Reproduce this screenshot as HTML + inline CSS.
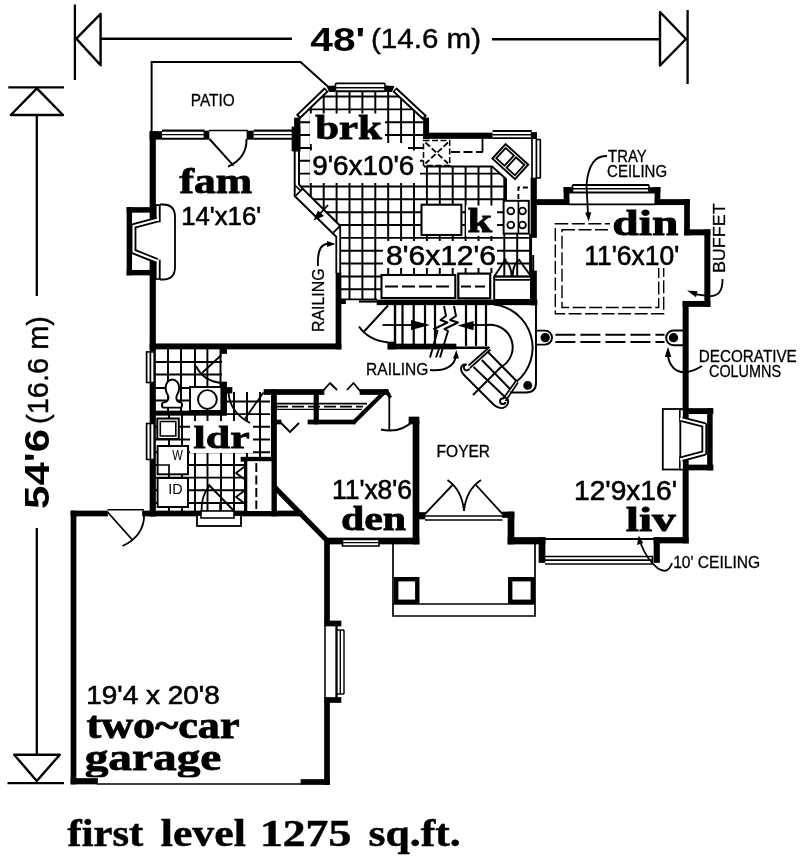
<!DOCTYPE html>
<html><head><meta charset="utf-8"><title>first level floor plan</title>
<style>
html,body{margin:0;padding:0;background:#fff;}
body{width:800px;height:863px;overflow:hidden;font-family:"Liberation Sans",sans-serif;}
svg{display:block;}
</style></head><body>
<svg width="800" height="863" viewBox="0 0 800 863">
<rect x="0" y="0" width="800" height="863" fill="#fff"/>
<filter id="soft" x="0" y="0" width="800" height="863" filterUnits="userSpaceOnUse"><feGaussianBlur stdDeviation="0.42"/></filter>
<g filter="url(#soft)">
<defs>
<clipPath id="ck"><polygon points="298,118 328,91 393,91 424,118 424,166 492,166 506,179 506,200 504,200 504,234 531,234 531,276 494,276 494,273 457,273 457,275 381,275 381,300 341,300 341,229 298,184"/></clipPath>
<clipPath id="cb"><rect x="155" y="349" width="67" height="62"/></clipPath>
<clipPath id="cl"><polygon points="155,414 225,414 225,392 270,392 270,511 155,511"/></clipPath>
</defs>
<g clip-path="url(#ck)">
<polyline points="285,85 285,305" fill="none" stroke="#000" stroke-width="1.9500000000000002" stroke-linecap="butt"/>
<polyline points="297.9,85 297.9,305" fill="none" stroke="#000" stroke-width="1.9500000000000002" stroke-linecap="butt"/>
<polyline points="310.8,85 310.8,305" fill="none" stroke="#000" stroke-width="1.9500000000000002" stroke-linecap="butt"/>
<polyline points="323.7,85 323.7,305" fill="none" stroke="#000" stroke-width="1.9500000000000002" stroke-linecap="butt"/>
<polyline points="336.6,85 336.6,305" fill="none" stroke="#000" stroke-width="1.9500000000000002" stroke-linecap="butt"/>
<polyline points="349.5,85 349.5,305" fill="none" stroke="#000" stroke-width="1.9500000000000002" stroke-linecap="butt"/>
<polyline points="362.4,85 362.4,305" fill="none" stroke="#000" stroke-width="1.9500000000000002" stroke-linecap="butt"/>
<polyline points="375.3,85 375.3,305" fill="none" stroke="#000" stroke-width="1.9500000000000002" stroke-linecap="butt"/>
<polyline points="388.2,85 388.2,305" fill="none" stroke="#000" stroke-width="1.9500000000000002" stroke-linecap="butt"/>
<polyline points="401.1,85 401.1,305" fill="none" stroke="#000" stroke-width="1.9500000000000002" stroke-linecap="butt"/>
<polyline points="414,85 414,305" fill="none" stroke="#000" stroke-width="1.9500000000000002" stroke-linecap="butt"/>
<polyline points="426.9,85 426.9,305" fill="none" stroke="#000" stroke-width="1.9500000000000002" stroke-linecap="butt"/>
<polyline points="439.8,85 439.8,305" fill="none" stroke="#000" stroke-width="1.9500000000000002" stroke-linecap="butt"/>
<polyline points="452.7,85 452.7,305" fill="none" stroke="#000" stroke-width="1.9500000000000002" stroke-linecap="butt"/>
<polyline points="465.6,85 465.6,305" fill="none" stroke="#000" stroke-width="1.9500000000000002" stroke-linecap="butt"/>
<polyline points="478.5,85 478.5,305" fill="none" stroke="#000" stroke-width="1.9500000000000002" stroke-linecap="butt"/>
<polyline points="491.4,85 491.4,305" fill="none" stroke="#000" stroke-width="1.9500000000000002" stroke-linecap="butt"/>
<polyline points="504.3,85 504.3,305" fill="none" stroke="#000" stroke-width="1.9500000000000002" stroke-linecap="butt"/>
<polyline points="517.2,85 517.2,305" fill="none" stroke="#000" stroke-width="1.9500000000000002" stroke-linecap="butt"/>
<polyline points="530.1,85 530.1,305" fill="none" stroke="#000" stroke-width="1.9500000000000002" stroke-linecap="butt"/>
<polyline points="290,96.5 540,96.5" fill="none" stroke="#000" stroke-width="1.9500000000000002" stroke-linecap="butt"/>
<polyline points="290,109.35 540,109.35" fill="none" stroke="#000" stroke-width="1.9500000000000002" stroke-linecap="butt"/>
<polyline points="290,122.2 540,122.2" fill="none" stroke="#000" stroke-width="1.9500000000000002" stroke-linecap="butt"/>
<polyline points="290,135.05 540,135.05" fill="none" stroke="#000" stroke-width="1.9500000000000002" stroke-linecap="butt"/>
<polyline points="290,147.9 540,147.9" fill="none" stroke="#000" stroke-width="1.9500000000000002" stroke-linecap="butt"/>
<polyline points="290,160.75 540,160.75" fill="none" stroke="#000" stroke-width="1.9500000000000002" stroke-linecap="butt"/>
<polyline points="290,173.6 540,173.6" fill="none" stroke="#000" stroke-width="1.9500000000000002" stroke-linecap="butt"/>
<polyline points="290,186.45 540,186.45" fill="none" stroke="#000" stroke-width="1.9500000000000002" stroke-linecap="butt"/>
<polyline points="290,199.3 540,199.3" fill="none" stroke="#000" stroke-width="1.9500000000000002" stroke-linecap="butt"/>
<polyline points="290,212.15 540,212.15" fill="none" stroke="#000" stroke-width="1.9500000000000002" stroke-linecap="butt"/>
<polyline points="290,225 540,225" fill="none" stroke="#000" stroke-width="1.9500000000000002" stroke-linecap="butt"/>
<polyline points="290,237.85 540,237.85" fill="none" stroke="#000" stroke-width="1.9500000000000002" stroke-linecap="butt"/>
<polyline points="290,250.7 540,250.7" fill="none" stroke="#000" stroke-width="1.9500000000000002" stroke-linecap="butt"/>
<polyline points="290,263.55 540,263.55" fill="none" stroke="#000" stroke-width="1.9500000000000002" stroke-linecap="butt"/>
<polyline points="290,276.4 540,276.4" fill="none" stroke="#000" stroke-width="1.9500000000000002" stroke-linecap="butt"/>
<polyline points="290,289.25 540,289.25" fill="none" stroke="#000" stroke-width="1.9500000000000002" stroke-linecap="butt"/>
<polyline points="290,302.1 540,302.1" fill="none" stroke="#000" stroke-width="1.9500000000000002" stroke-linecap="butt"/>
</g>
<rect x="310" y="113.5" width="75" height="30.5" fill="#fff"/>
<rect x="310" y="150.5" width="110" height="32.5" fill="#fff"/>
<rect x="312" y="143" width="96" height="8" fill="#fff"/>
<rect x="466" y="205.5" width="31" height="30.5" fill="#fff"/>
<rect x="383" y="241" width="114" height="27" fill="#fff"/>
<g clip-path="url(#cb)">
<polyline points="168,345 168,415" fill="none" stroke="#000" stroke-width="1.9500000000000002" stroke-linecap="butt"/>
<polyline points="181,345 181,415" fill="none" stroke="#000" stroke-width="1.9500000000000002" stroke-linecap="butt"/>
<polyline points="195,345 195,415" fill="none" stroke="#000" stroke-width="1.9500000000000002" stroke-linecap="butt"/>
<polyline points="207.4,345 207.4,415" fill="none" stroke="#000" stroke-width="1.9500000000000002" stroke-linecap="butt"/>
<polyline points="220.5,345 220.5,415" fill="none" stroke="#000" stroke-width="1.9500000000000002" stroke-linecap="butt"/>
<polyline points="150,362 225,362" fill="none" stroke="#000" stroke-width="1.9500000000000002" stroke-linecap="butt"/>
<polyline points="150,374.5 225,374.5" fill="none" stroke="#000" stroke-width="1.9500000000000002" stroke-linecap="butt"/>
<polyline points="150,388 225,388" fill="none" stroke="#000" stroke-width="1.9500000000000002" stroke-linecap="butt"/>
<polyline points="150,400.5 225,400.5" fill="none" stroke="#000" stroke-width="1.9500000000000002" stroke-linecap="butt"/>
</g>
<g clip-path="url(#cl)">
<polyline points="169,390 169,515" fill="none" stroke="#000" stroke-width="1.9500000000000002" stroke-linecap="butt"/>
<polyline points="182,390 182,515" fill="none" stroke="#000" stroke-width="1.9500000000000002" stroke-linecap="butt"/>
<polyline points="195,390 195,515" fill="none" stroke="#000" stroke-width="1.9500000000000002" stroke-linecap="butt"/>
<polyline points="207.5,390 207.5,515" fill="none" stroke="#000" stroke-width="1.9500000000000002" stroke-linecap="butt"/>
<polyline points="221,390 221,515" fill="none" stroke="#000" stroke-width="1.9500000000000002" stroke-linecap="butt"/>
<polyline points="234,390 234,515" fill="none" stroke="#000" stroke-width="1.9500000000000002" stroke-linecap="butt"/>
<polyline points="247,390 247,515" fill="none" stroke="#000" stroke-width="1.9500000000000002" stroke-linecap="butt"/>
<polyline points="260,390 260,515" fill="none" stroke="#000" stroke-width="1.9500000000000002" stroke-linecap="butt"/>
<polyline points="150,503 275,503" fill="none" stroke="#000" stroke-width="1.9500000000000002" stroke-linecap="butt"/>
<polyline points="150,490.3 275,490.3" fill="none" stroke="#000" stroke-width="1.9500000000000002" stroke-linecap="butt"/>
<polyline points="150,477.6 275,477.6" fill="none" stroke="#000" stroke-width="1.9500000000000002" stroke-linecap="butt"/>
<polyline points="150,464.9 275,464.9" fill="none" stroke="#000" stroke-width="1.9500000000000002" stroke-linecap="butt"/>
<polyline points="150,452.2 275,452.2" fill="none" stroke="#000" stroke-width="1.9500000000000002" stroke-linecap="butt"/>
<polyline points="150,439.5 275,439.5" fill="none" stroke="#000" stroke-width="1.9500000000000002" stroke-linecap="butt"/>
<polyline points="150,426.8 275,426.8" fill="none" stroke="#000" stroke-width="1.9500000000000002" stroke-linecap="butt"/>
<polyline points="150,414.1 275,414.1" fill="none" stroke="#000" stroke-width="1.9500000000000002" stroke-linecap="butt"/>
<polyline points="150,401.4 275,401.4" fill="none" stroke="#000" stroke-width="1.9500000000000002" stroke-linecap="butt"/>
</g>
<rect x="190" y="421" width="63" height="32" fill="#fff"/>
<polyline points="74.9,4.5 74.9,80" fill="none" stroke="#000" stroke-width="2.3" stroke-linecap="butt"/>
<path d="M76.3,38.6 L100.6,13.8 L100.6,65.3 Z" fill="none" stroke="#000" stroke-width="2.4" stroke-linecap="butt" stroke-linejoin="round"/>
<polyline points="100.6,38.8 292,38.8" fill="none" stroke="#000" stroke-width="2.4" stroke-linecap="butt"/>
<polyline points="492,39.2 660,39.2" fill="none" stroke="#000" stroke-width="2.4" stroke-linecap="butt"/>
<path d="M686,39 L660,12 L660,65.5 Z" fill="none" stroke="#000" stroke-width="2.4" stroke-linecap="butt" stroke-linejoin="round"/>
<polyline points="687.6,10 687.6,84" fill="none" stroke="#000" stroke-width="2.3" stroke-linecap="butt"/>
<polyline points="8.3,87.3 64,87.3" fill="none" stroke="#000" stroke-width="2.3" stroke-linecap="butt"/>
<path d="M36.9,88.3 L10.8,115 L63,115 Z" fill="none" stroke="#000" stroke-width="2.4" stroke-linecap="butt" stroke-linejoin="round"/>
<polyline points="36.8,115 36.8,296" fill="none" stroke="#000" stroke-width="2.3" stroke-linecap="butt"/>
<polyline points="36.8,528 36.8,754.5" fill="none" stroke="#000" stroke-width="2.3" stroke-linecap="butt"/>
<path d="M14.2,754.7 L59.8,754.7 L36.8,781 Z" fill="none" stroke="#000" stroke-width="2.4" stroke-linecap="butt" stroke-linejoin="round"/>
<polyline points="7.5,783.2 64,783.2" fill="none" stroke="#000" stroke-width="2.3" stroke-linecap="butt"/>
<polyline points="151.6,133 151.6,62 300.5,62 329,87.5" fill="none" stroke="#000" stroke-width="1.9500000000000002" stroke-linecap="butt"/>
<rect x="149.65" y="131.15" width="6.2" height="91.2" fill="#000"/>
<rect x="149.65" y="259.65" width="6.2" height="256.7" fill="#000"/>
<rect x="149.65" y="343.45" width="191.7" height="5.9" fill="#000"/>
<rect x="335.65" y="272.65" width="5.7" height="76.7" fill="#000"/>
<rect x="149.65" y="131.15" width="12.7" height="8.5" fill="#000"/>
<rect x="162" y="130" width="42.5" height="9.3" fill="#fff"/>
<polyline points="162,130.6 204.5,130.6" fill="none" stroke="#000" stroke-width="2.08" stroke-linecap="butt"/>
<polyline points="162,138.7 204.5,138.7" fill="none" stroke="#000" stroke-width="2.08" stroke-linecap="butt"/>
<polyline points="162,134.65 204.5,134.65" fill="none" stroke="#000" stroke-width="1.3" stroke-linecap="butt"/>
<rect x="203.65" y="130.65" width="5.7" height="9" fill="#000"/>
<polyline points="209,130.5 248,130.5" fill="none" stroke="#000" stroke-width="1.6900000000000002" stroke-linecap="butt"/>
<rect x="246.65" y="130.65" width="7.4" height="9" fill="#000"/>
<rect x="253.7" y="130" width="38.3" height="9.3" fill="#fff"/>
<polyline points="253.7,130.6 292,130.6" fill="none" stroke="#000" stroke-width="2.08" stroke-linecap="butt"/>
<polyline points="253.7,138.7 292,138.7" fill="none" stroke="#000" stroke-width="2.08" stroke-linecap="butt"/>
<polyline points="253.7,134.65 292,134.65" fill="none" stroke="#000" stroke-width="1.3" stroke-linecap="butt"/>
<rect x="291.65" y="126.65" width="8.7" height="24.7" fill="#000"/>
<polyline points="209.5,139 233.5,165.7" fill="none" stroke="#000" stroke-width="1.9500000000000002" stroke-linecap="butt"/>
<path d="M246.5,139 Q247,158 228,166.7" fill="none" stroke="#000" stroke-width="1.9500000000000002" stroke-linecap="butt" stroke-linejoin="round"/>
<rect x="126.65" y="207.15" width="5.4" height="68.2" fill="#000"/>
<rect x="126.65" y="207.15" width="28.7" height="5.5" fill="#000"/>
<rect x="126.65" y="269.95" width="28.7" height="5.4" fill="#000"/>
<rect x="154.65" y="204.15" width="6" height="18.2" fill="#000"/>
<rect x="154.65" y="259.65" width="6" height="20.2" fill="#000"/>
<rect x="156.6" y="206" width="2.2" height="15" fill="#fff"/>
<rect x="156.6" y="261" width="2.2" height="17.3" fill="#fff"/>
<path d="M157,219.7 L133.5,226 L133.5,251.5 L157,261" fill="none" stroke="#000" stroke-width="5.8" stroke-linecap="butt" stroke-linejoin="round"/>
<path d="M159,219.2 L133.5,226 L133.5,251.5 L159,261.6" fill="none" stroke="#fff" stroke-width="2.1"/>
<path d="M160,204.5 L163,204.5 Q175,204.5 175,217 L175,267 Q175,279.5 163,279.5 L160,279.5" fill="none" stroke="#000" stroke-width="1.8199999999999998" stroke-linecap="butt" stroke-linejoin="round"/>
<polyline points="336.3,236 336.3,273" fill="none" stroke="#000" stroke-width="1.8199999999999998" stroke-linecap="butt"/>
<polyline points="340.2,226 340.2,273" fill="none" stroke="#000" stroke-width="1.8199999999999998" stroke-linecap="butt"/>
<path d="M318,266 Q317,246 326,244 L330,244" fill="none" stroke="#000" stroke-width="1.8199999999999998" stroke-linecap="butt" stroke-linejoin="round"/>
<polygon points="335.5,244 327,241 327,247" fill="#000"/>
<rect x="294.15" y="117.65" width="6.2" height="33.7" fill="#000"/>
<rect x="423.15" y="117.65" width="5.9" height="21.2" fill="#000"/>
<rect x="423.15" y="132.65" width="69.8" height="6.2" fill="#000"/>
<polygon points="326.5,86 335.5,85.5 335.5,92 329,92" fill="#000"/>
<polygon points="385,85.5 394.5,86 392,92 385,92" fill="#000"/>
<rect x="335.5" y="82.5" width="49.5" height="9.5" fill="#fff"/>
<polyline points="335.5,83.3 385,83.3" fill="none" stroke="#000" stroke-width="1.8199999999999998" stroke-linecap="butt"/>
<polyline points="335.5,87.7 385,87.7" fill="none" stroke="#000" stroke-width="1.56" stroke-linecap="butt"/>
<polyline points="335.5,91.2 385,91.2" fill="none" stroke="#000" stroke-width="1.9500000000000002" stroke-linecap="butt"/>
<polyline points="335.5,83.3 335.5,91" fill="none" stroke="#000" stroke-width="1.56" stroke-linecap="butt"/>
<polyline points="385,83.3 385,91" fill="none" stroke="#000" stroke-width="1.56" stroke-linecap="butt"/>
<line x1="326.5" y1="89.5" x2="298" y2="117" stroke="#000" stroke-width="6"/>
<line x1="325.5" y1="90.5" x2="299.5" y2="115.5" stroke="#fff" stroke-width="2.2"/>
<line x1="394.5" y1="89.5" x2="425" y2="118" stroke="#000" stroke-width="6"/>
<line x1="395.5" y1="90.5" x2="423.5" y2="116.5" stroke="#fff" stroke-width="2.2"/>
<polygon points="296,195 302.5,189 340,226 333.5,232.5" fill="#fff"/>
<polyline points="294.7,150 294.7,196 336,236.5" fill="none" stroke="#000" stroke-width="1.9500000000000002" stroke-linecap="butt"/>
<polyline points="299,150 299,184.5 302.5,188.5 340.3,226" fill="none" stroke="#000" stroke-width="1.9500000000000002" stroke-linecap="butt"/>
<polyline points="302.8,188.7 296,195.3" fill="none" stroke="#000" stroke-width="1.8199999999999998" stroke-linecap="butt"/>
<polyline points="340,226 333.3,232.6" fill="none" stroke="#000" stroke-width="1.8199999999999998" stroke-linecap="butt"/>
<polyline points="294.7,185 300.5,190.7" fill="none" stroke="#000" stroke-width="1.6900000000000002" stroke-linecap="butt"/>
<polyline points="328,205 317,217" fill="none" stroke="#000" stroke-width="1.8199999999999998" stroke-linecap="butt"/>
<polygon points="313.5,220.5 318,210.5 324,216" fill="#000"/>
<rect x="492.6" y="130.5" width="39.1" height="8" fill="#fff"/>
<polyline points="492.6,131 531.7,131" fill="none" stroke="#000" stroke-width="1.8199999999999998" stroke-linecap="butt"/>
<polyline points="492.6,134.7 531.7,134.7" fill="none" stroke="#000" stroke-width="1.56" stroke-linecap="butt"/>
<polyline points="492.6,138.2 531.7,138.2" fill="none" stroke="#000" stroke-width="1.8199999999999998" stroke-linecap="butt"/>
<rect x="530.85" y="132.15" width="6.1" height="8.7" fill="#000"/>
<rect x="531.7" y="139" width="9.1" height="39.5" fill="#fff"/>
<polyline points="532,139 532,178.5" fill="none" stroke="#000" stroke-width="1.6900000000000002" stroke-linecap="butt"/>
<polyline points="536.4,139 536.4,178.5" fill="none" stroke="#000" stroke-width="1.6900000000000002" stroke-linecap="butt"/>
<polyline points="540.3,139 540.3,178.5" fill="none" stroke="#000" stroke-width="1.6900000000000002" stroke-linecap="butt"/>
<polyline points="536,139.5 540.3,139.5" fill="none" stroke="#000" stroke-width="1.56" stroke-linecap="butt"/>
<polyline points="536,178 540.3,178" fill="none" stroke="#000" stroke-width="1.56" stroke-linecap="butt"/>
<rect x="530.65" y="177.65" width="6.2" height="60.2" fill="#000"/>
<rect x="530.65" y="270.65" width="6.2" height="34.7" fill="#000"/>
<polyline points="531.2,237.5 531.2,271" fill="none" stroke="#000" stroke-width="1.6900000000000002" stroke-linecap="butt"/>
<polyline points="533.2,255 533.2,271" fill="none" stroke="#000" stroke-width="1.9500000000000002" stroke-linecap="butt"/>
<rect x="376.65" y="299.65" width="160.7" height="5.5" fill="#000"/>
<rect x="340.65" y="298.95" width="5.2" height="5.1" fill="#000"/>
<polyline points="359,301.5 377,301.5" fill="none" stroke="#000" stroke-width="2.21" stroke-linecap="butt"/>
<polyline points="341,299.3 377,299.3" fill="none" stroke="#000" stroke-width="1.6900000000000002" stroke-linecap="butt"/>
<rect x="423.5" y="140.6" width="26.2" height="25" fill="#fff" stroke="none"/>
<rect x="423.5" y="140.6" width="26.2" height="25" fill="none" stroke="#000" stroke-width="1.5" stroke-dasharray="6 2.5"/>
<polyline points="425.5,142.5 448,163.5" fill="none" stroke="#000" stroke-width="1.8199999999999998" stroke-linecap="butt" stroke-dasharray="6 2.5"/>
<polyline points="448,142.5 425.5,163.5" fill="none" stroke="#000" stroke-width="1.8199999999999998" stroke-linecap="butt" stroke-dasharray="6 2.5"/>
<polyline points="451,152 482.5,152" fill="none" stroke="#000" stroke-width="1.8199999999999998" stroke-linecap="butt" stroke-dasharray="9 3.5"/>
<polyline points="482.5,138 482.5,152.5" fill="none" stroke="#000" stroke-width="1.8199999999999998" stroke-linecap="butt"/>
<polyline points="424,166.4 492,166.4 506,179 506,200.5" fill="none" stroke="#000" stroke-width="1.9500000000000002" stroke-linecap="butt"/>
<g transform="translate(510.3,161.6) rotate(42.3)">
<rect x="-15.3" y="-9.8" width="30.6" height="19.6" fill="#fff" stroke="#000" stroke-width="1.9500000000000002"/>
<rect x="-12.6" y="-7" width="11.2" height="14" fill="none" stroke="#000" stroke-width="1.8199999999999998"/>
<rect x="1.4" y="-7" width="11.2" height="14" fill="none" stroke="#000" stroke-width="1.8199999999999998"/>
</g>
<rect x="503.6" y="200.8" width="25.2" height="32.8" fill="#fff" stroke="#000" stroke-width="1.9500000000000002"/>
<polyline points="518.4,200.8 518.4,233.6" fill="none" stroke="#000" stroke-width="1.6900000000000002" stroke-linecap="butt"/>
<circle cx="510.8" cy="211" r="3.4" fill="none" stroke="#000" stroke-width="1.8199999999999998"/>
<circle cx="510.8" cy="225" r="3.4" fill="none" stroke="#000" stroke-width="1.8199999999999998"/>
<circle cx="522.5" cy="211" r="3.4" fill="none" stroke="#000" stroke-width="1.8199999999999998"/>
<circle cx="522.5" cy="225" r="3.4" fill="none" stroke="#000" stroke-width="1.8199999999999998"/>
<polyline points="518.4,199 518.4,187.5 531,187.5" fill="none" stroke="#000" stroke-width="1.8199999999999998" stroke-linecap="butt" stroke-dasharray="5 3"/>
<rect x="421.5" y="204.7" width="39.9" height="30.3" fill="#fff" stroke="#000" stroke-width="2.08"/>
<rect x="381.5" y="275" width="73.8" height="23" fill="#fff" stroke="#000" stroke-width="2.08"/>
<polyline points="385,286.5 452,286.5" fill="none" stroke="#000" stroke-width="1.9500000000000002" stroke-linecap="butt" stroke-dasharray="13 4"/>
<rect x="458.3" y="273.6" width="31.9" height="24.7" fill="#fff" stroke="#000" stroke-width="2.2"/>
<polyline points="461,286.5 489.5,286.5" fill="none" stroke="#000" stroke-width="1.9500000000000002" stroke-linecap="butt" stroke-dasharray="10 4"/>
<rect x="494.2" y="276.7" width="36.8" height="23.3" fill="#fff" stroke="#000" stroke-width="1.9500000000000002"/>
<polyline points="494.2,279.8 531,279.8" fill="none" stroke="#000" stroke-width="1.6900000000000002" stroke-linecap="butt"/>
<path d="M494.2,276.5 L506,258.8" fill="none" stroke="#000" stroke-width="1.9500000000000002" stroke-linecap="butt" stroke-linejoin="round"/>
<path d="M503.6,259.6 Q511,263.5 511.6,276" fill="none" stroke="#000" stroke-width="1.9500000000000002" stroke-linecap="butt" stroke-linejoin="round"/>
<path d="M530.8,276 L519,259.8" fill="none" stroke="#000" stroke-width="1.9500000000000002" stroke-linecap="butt" stroke-linejoin="round"/>
<path d="M520,259.4 Q513,263.5 512.6,276" fill="none" stroke="#000" stroke-width="1.9500000000000002" stroke-linecap="butt" stroke-linejoin="round"/>
<rect x="387.65" y="343.65" width="68.7" height="5.7" fill="#000"/>
<polyline points="455,347.7 489,347.7" fill="none" stroke="#000" stroke-width="2.4" stroke-linecap="butt"/>
<rect x="393.8" y="305" width="2.4" height="43" fill="#000"/>
<rect x="387.65" y="341.65" width="7.7" height="7.7" fill="#000"/>
<polyline points="402.5,305 402.5,346" fill="none" stroke="#000" stroke-width="2.21" stroke-linecap="butt"/>
<polyline points="413.7,305 413.7,346" fill="none" stroke="#000" stroke-width="2.21" stroke-linecap="butt"/>
<polyline points="425,305 425,346" fill="none" stroke="#000" stroke-width="2.21" stroke-linecap="butt"/>
<polyline points="435,305 435,346" fill="none" stroke="#000" stroke-width="2.21" stroke-linecap="butt"/>
<polyline points="466,305 466,346" fill="none" stroke="#000" stroke-width="2.21" stroke-linecap="butt"/>
<polyline points="476,305 476,346" fill="none" stroke="#000" stroke-width="2.21" stroke-linecap="butt"/>
<polyline points="486,305 486,346" fill="none" stroke="#000" stroke-width="2.21" stroke-linecap="butt"/>
<polyline points="382.5,325 413,325" fill="none" stroke="#000" stroke-width="1.8199999999999998" stroke-linecap="butt"/>
<polygon points="430,325 411,320 411,330" fill="#000"/>
<polyline points="473,325 487,325" fill="none" stroke="#000" stroke-width="1.8199999999999998" stroke-linecap="butt"/>
<polygon points="457.5,325.5 473.6,321 473.6,330.3" fill="#000"/>
<path d="M444,306 L446,316 L440.5,320 L447.5,322.5 L434,329 L437.5,331 L430,357.5" fill="none" stroke="#000" stroke-width="1.9500000000000002" stroke-linecap="butt" stroke-linejoin="round"/>
<path d="M454,306 L456,316 L450,320 L458,322.5 L444.5,329 L448,331 L440,357.5" fill="none" stroke="#000" stroke-width="1.9500000000000002" stroke-linecap="butt" stroke-linejoin="round"/>
<polyline points="440,346 436,357.5" fill="none" stroke="#000" stroke-width="1.8199999999999998" stroke-linecap="butt"/>
<polyline points="388,305.5 364,331.5" fill="none" stroke="#000" stroke-width="1.9500000000000002" stroke-linecap="butt"/>
<path d="M359,326.5 Q368,340 388,342.5" fill="none" stroke="#000" stroke-width="1.9500000000000002" stroke-linecap="butt" stroke-linejoin="round"/>
<path d="M494,304.5 A43.5,43.5 0 0 1 516.5,381.5" fill="none" stroke="#000" stroke-width="1.9500000000000002" stroke-linecap="butt" stroke-linejoin="round"/>
<path d="M487,325 A22.5,22.5 0 0 1 501,367 L473,395" fill="none" stroke="#000" stroke-width="1.9500000000000002" stroke-linecap="butt" stroke-linejoin="round"/>
<polyline points="487.5,351.5 516.5,381" fill="none" stroke="#000" stroke-width="1.9500000000000002" stroke-linecap="butt"/>
<polyline points="481.8,360 510,389" fill="none" stroke="#000" stroke-width="1.9500000000000002" stroke-linecap="butt"/>
<polyline points="473.6,367 505,397" fill="none" stroke="#000" stroke-width="1.9500000000000002" stroke-linecap="butt"/>
<polyline points="489.5,347 468.5,365.5" fill="none" stroke="#000" stroke-width="1.6900000000000002" stroke-linecap="butt"/>
<polyline points="490.5,349.5 470,368" fill="none" stroke="#000" stroke-width="1.6900000000000002" stroke-linecap="butt"/>
<polyline points="516.5,380 503,399" fill="none" stroke="#000" stroke-width="1.6900000000000002" stroke-linecap="butt"/>
<polyline points="518,382.5 505.5,401" fill="none" stroke="#000" stroke-width="1.6900000000000002" stroke-linecap="butt"/>
<path d="M469.5,368.5 A3,3 0 1 1 466,364.5 Q461,364 461,369 Q461,372 464,375 L494,405 Q500,410 505,407 Q509,404 508,400 Q506,396 502.5,398.5 A2.8,2.8 0 1 0 505.5,402" fill="none" stroke="#000" stroke-width="1.9500000000000002" stroke-linecap="butt" stroke-linejoin="round"/>
<path d="M536,305 L536,383 Q536,392.4 526,392.4 L510,392.4" fill="none" stroke="#000" stroke-width="1.9500000000000002" stroke-linecap="butt" stroke-linejoin="round"/>
<circle cx="527.7" cy="385.4" r="3.8" fill="#000" stroke="#000" stroke-width="1.3"/>
<path d="M536,330.6 L545,330.6 A7,7 0 0 1 545,344.6 L536,344.6" fill="none" stroke="#000" stroke-width="1.9500000000000002" stroke-linecap="butt" stroke-linejoin="round"/>
<circle cx="545.2" cy="337.6" r="4" fill="#000" stroke="#000" stroke-width="1.3"/>
<path d="M430,370 Q453,372 456,356" fill="none" stroke="#000" stroke-width="1.8199999999999998" stroke-linecap="butt" stroke-linejoin="round"/>
<polygon points="456.3,350 453,358.5 459,358.5" fill="#000"/>
<rect x="533.65" y="199.15" width="35.7" height="5.9" fill="#000"/>
<rect x="563.65" y="187.15" width="5.7" height="17.9" fill="#000"/>
<rect x="563.65" y="187.15" width="9.2" height="5.5" fill="#000"/>
<rect x="572.5" y="184.3" width="76.5" height="8.7" fill="#fff"/>
<polyline points="572.5,185 649,185" fill="none" stroke="#000" stroke-width="1.8199999999999998" stroke-linecap="butt"/>
<polyline points="572.5,188.7 649,188.7" fill="none" stroke="#000" stroke-width="1.4300000000000002" stroke-linecap="butt"/>
<polyline points="569,192.5 655,192.5" fill="none" stroke="#000" stroke-width="1.8199999999999998" stroke-linecap="butt"/>
<polyline points="572.5,185 572.5,192" fill="none" stroke="#000" stroke-width="1.56" stroke-linecap="butt"/>
<polyline points="649,185 649,192" fill="none" stroke="#000" stroke-width="1.56" stroke-linecap="butt"/>
<polyline points="569,204.3 655,204.3" fill="none" stroke="#000" stroke-width="1.6900000000000002" stroke-linecap="butt"/>
<rect x="648.65" y="187.15" width="11.7" height="5.5" fill="#000"/>
<rect x="654.65" y="187.15" width="5.7" height="17.9" fill="#000"/>
<rect x="654.65" y="199.15" width="35.2" height="5.9" fill="#000"/>
<rect x="684.15" y="199.15" width="5.7" height="36.2" fill="#000"/>
<rect x="684.15" y="229.35" width="26.2" height="6" fill="#000"/>
<rect x="704.35" y="229.35" width="6" height="77.5" fill="#000"/>
<rect x="682.65" y="300.95" width="27.7" height="5.9" fill="#000"/>
<rect x="682.65" y="300.95" width="6" height="113.4" fill="#000"/>
<rect x="555.3" y="223.7" width="108.4" height="90" fill="none" stroke="#000" stroke-width="1.4" stroke-dasharray="13 3.5"/>
<rect x="562" y="229.7" width="96.7" height="77.8" fill="none" stroke="#000" stroke-width="1.4" stroke-dasharray="13 3.5"/>
<rect x="610" y="206" width="74" height="62" fill="#fff"/>
<rect x="576" y="241" width="108" height="27" fill="#fff"/>
<polyline points="555.4,334.8 664.5,334.8" fill="none" stroke="#000" stroke-width="1.9500000000000002" stroke-linecap="butt" stroke-dasharray="20 5"/>
<polyline points="555.4,342 664.5,342" fill="none" stroke="#000" stroke-width="1.9500000000000002" stroke-linecap="butt" stroke-dasharray="20 5"/>
<path d="M607,156 Q589,155 586.5,185 L588,214" fill="none" stroke="#000" stroke-width="1.8199999999999998" stroke-linecap="butt" stroke-linejoin="round"/>
<polygon points="588.7,221.5 585.2,212.5 591.3,212.3" fill="#000"/>
<path d="M722.5,279 Q723,297 709,296 L696,294.3" fill="none" stroke="#000" stroke-width="1.8199999999999998" stroke-linecap="butt" stroke-linejoin="round"/>
<polygon points="687,290.5 697.5,291.3 696,297.3" fill="#000"/>
<path d="M683.5,330.5 L673.5,330.5 A7.3,7.3 0 0 0 673.5,345.2 L683.5,345.2" fill="none" stroke="#000" stroke-width="1.9500000000000002" stroke-linecap="butt" stroke-linejoin="round"/>
<circle cx="673.5" cy="337.7" r="4" fill="#000" stroke="#000" stroke-width="1.3"/>
<path d="M702,366 Q684,377 674,368.5 Q668.5,363 668,355" fill="none" stroke="#000" stroke-width="1.9500000000000002" stroke-linecap="butt" stroke-linejoin="round"/>
<polygon points="668,346.7 664.8,357 671.3,357" fill="#000"/>
<rect x="682.65" y="408.15" width="30.7" height="5.9" fill="#000"/>
<rect x="707.15" y="408.15" width="5.5" height="62.2" fill="#000"/>
<rect x="682.65" y="464.65" width="30.7" height="5.7" fill="#000"/>
<rect x="682.65" y="464.65" width="6" height="78.7" fill="#000"/>
<rect x="653.65" y="537.15" width="35" height="6.2" fill="#000"/>
<rect x="653.65" y="537.15" width="6.2" height="25.7" fill="#000"/>
<rect x="662.8" y="409" width="17.5" height="60.5" fill="#fff" stroke="#000" stroke-width="1.8199999999999998"/>
<rect x="679.15" y="408.15" width="9.5" height="13.7" fill="#000"/>
<rect x="679.15" y="456.65" width="9.5" height="13.7" fill="#000"/>
<rect x="680.6" y="410.3" width="2.3" height="10" fill="#fff"/>
<rect x="680.6" y="458.3" width="2.3" height="10.5" fill="#fff"/>
<path d="M682,419.3 L704.3,425 L704.3,453 L682,459" fill="none" stroke="#000" stroke-width="5.8" stroke-linecap="butt" stroke-linejoin="round"/>
<path d="M680,418.8 L704.3,425 L704.3,453 L680,459.5" fill="none" stroke="#fff" stroke-width="2.1"/>
<polyline points="545,539 654,539" fill="none" stroke="#000" stroke-width="1.8199999999999998" stroke-linecap="butt"/>
<polyline points="545,556.5 653,556.5" fill="none" stroke="#000" stroke-width="1.6900000000000002" stroke-linecap="butt"/>
<polyline points="545,560.2 653,560.2" fill="none" stroke="#000" stroke-width="1.6900000000000002" stroke-linecap="butt"/>
<polyline points="545,564 653,564" fill="none" stroke="#000" stroke-width="1.6900000000000002" stroke-linecap="butt"/>
<polyline points="652.5,556.5 652.5,564" fill="none" stroke="#000" stroke-width="1.56" stroke-linecap="butt"/>
<rect x="538.65" y="537.15" width="6.7" height="25.7" fill="#000"/>
<rect x="507.65" y="537.15" width="37.7" height="7.2" fill="#000"/>
<rect x="507.65" y="511.65" width="6.7" height="32.7" fill="#000"/>
<rect x="502.15" y="511.65" width="12.2" height="6.2" fill="#000"/>
<path d="M672,563 Q668,575 658,568.5 Q647,560 640.5,543" fill="none" stroke="#000" stroke-width="1.8199999999999998" stroke-linecap="butt" stroke-linejoin="round"/>
<polygon points="638.7,535.5 637,545 643.3,543" fill="#000"/>
<rect x="418.65" y="512.15" width="6.7" height="7.2" fill="#000"/>
<polyline points="425,516 502.5,516" fill="none" stroke="#000" stroke-width="1.56" stroke-linecap="butt"/>
<polyline points="425,520 502.5,520" fill="none" stroke="#000" stroke-width="1.56" stroke-linecap="butt"/>
<polyline points="425,514 452.5,485" fill="none" stroke="#000" stroke-width="1.8199999999999998" stroke-linecap="butt"/>
<polyline points="502.5,514 476,485" fill="none" stroke="#000" stroke-width="1.8199999999999998" stroke-linecap="butt"/>
<path d="M447.5,480 Q462,490 464,511" fill="none" stroke="#000" stroke-width="1.8199999999999998" stroke-linecap="butt" stroke-linejoin="round"/>
<path d="M481,480 Q466,490 464,511" fill="none" stroke="#000" stroke-width="1.8199999999999998" stroke-linecap="butt" stroke-linejoin="round"/>
<polyline points="393,544 393,616 535,616 535,544" fill="none" stroke="#000" stroke-width="1.6900000000000002" stroke-linecap="butt"/>
<polyline points="393,604 535,604" fill="none" stroke="#000" stroke-width="1.6900000000000002" stroke-linecap="butt"/>
<rect x="396.2" y="579.2" width="21.1" height="22.6" fill="#fff" stroke="#000" stroke-width="4.4"/>
<rect x="510.2" y="579.2" width="22.6" height="22.6" fill="#fff" stroke="#000" stroke-width="4.4"/>
<rect x="412.65" y="420.65" width="6.7" height="123.7" fill="#000"/>
<rect x="325.65" y="537.65" width="93.7" height="6.7" fill="#000"/>
<rect x="270.95" y="389.15" width="5.9" height="127.2" fill="#000"/>
<rect x="263.65" y="389.15" width="60.7" height="5.7" fill="#000"/>
<rect x="359.65" y="389.15" width="28.7" height="5.7" fill="#000"/>
<line x1="272.5" y1="485" x2="328" y2="541.5" stroke="#000" stroke-width="5.2"/>
<rect x="149.65" y="510.65" width="152.7" height="5.7" fill="#000"/>
<rect x="342.5" y="539.5" width="36.5" height="6.5" fill="#fff" stroke="#000" stroke-width="1.56"/>
<polyline points="342.5,542.7 379,542.7" fill="none" stroke="#000" stroke-width="1.3" stroke-linecap="butt"/>
<rect x="313.65" y="393.65" width="5.2" height="30.7" fill="#000"/>
<rect x="307.65" y="419.65" width="47.7" height="4.7" fill="#000"/>
<line x1="353" y1="423" x2="385.5" y2="391" stroke="#000" stroke-width="4.2"/>
<polygon points="384,389.5 388,389.5 392,397 389.3,398.5 386,394.5" fill="#000"/>
<path d="M322,392 L330,383 L337,390" fill="none" stroke="#000" stroke-width="1.8199999999999998" stroke-linecap="butt" stroke-linejoin="round"/>
<path d="M347,390 L353.5,383 L361,392" fill="none" stroke="#000" stroke-width="1.8199999999999998" stroke-linecap="butt" stroke-linejoin="round"/>
<polyline points="276,403.6 367,403.6" fill="none" stroke="#000" stroke-width="1.56" stroke-linecap="butt"/>
<polyline points="276,406.6 363,406.6" fill="none" stroke="#000" stroke-width="1.56" stroke-linecap="butt" stroke-dasharray="12 4"/>
<polyline points="276,409.3 362,409.3" fill="none" stroke="#000" stroke-width="1.3" stroke-linecap="butt"/>
<rect x="275.65" y="419.65" width="5.7" height="4.7" fill="#000"/>
<path d="M280,422 L290,432 L299,423" fill="none" stroke="#000" stroke-width="1.8199999999999998" stroke-linecap="butt" stroke-linejoin="round"/>
<polyline points="389.3,396 389.3,430" fill="none" stroke="#000" stroke-width="1.8199999999999998" stroke-linecap="butt"/>
<path d="M381,429.5 Q385,430.5 389.5,430.5 A32.5,32.5 0 0 0 413,421" fill="none" stroke="#000" stroke-width="1.8199999999999998" stroke-linecap="butt" stroke-linejoin="round"/>
<rect x="408.65" y="416.65" width="10.7" height="7.7" fill="#000"/>
<rect x="221.05" y="381.65" width="5.9" height="33.7" fill="#000"/>
<rect x="221.05" y="348.65" width="5.9" height="5.2" fill="#000"/>
<rect x="154.65" y="410.65" width="72.3" height="5" fill="#000"/>
<rect x="225.35" y="387.15" width="7" height="6.2" fill="#000"/>
<rect x="146" y="351.4" width="8.8" height="31.6" fill="#fff"/>
<polyline points="146.6,351.4 146.6,383" fill="none" stroke="#000" stroke-width="1.6900000000000002" stroke-linecap="butt"/>
<polyline points="150.4,351.4 150.4,383" fill="none" stroke="#000" stroke-width="1.6900000000000002" stroke-linecap="butt"/>
<polyline points="154.2,351.4 154.2,383" fill="none" stroke="#000" stroke-width="1.6900000000000002" stroke-linecap="butt"/>
<polyline points="146,351.9 154.8,351.9" fill="none" stroke="#000" stroke-width="1.56" stroke-linecap="butt"/>
<polyline points="146,382.5 154.8,382.5" fill="none" stroke="#000" stroke-width="1.56" stroke-linecap="butt"/>
<rect x="146" y="423" width="8.8" height="37" fill="#fff"/>
<polyline points="146.6,423 146.6,460" fill="none" stroke="#000" stroke-width="1.6900000000000002" stroke-linecap="butt"/>
<polyline points="150.4,423 150.4,460" fill="none" stroke="#000" stroke-width="1.6900000000000002" stroke-linecap="butt"/>
<polyline points="154.2,423 154.2,460" fill="none" stroke="#000" stroke-width="1.6900000000000002" stroke-linecap="butt"/>
<polyline points="146,423.5 154.8,423.5" fill="none" stroke="#000" stroke-width="1.56" stroke-linecap="butt"/>
<polyline points="146,459.5 154.8,459.5" fill="none" stroke="#000" stroke-width="1.56" stroke-linecap="butt"/>
<polyline points="221.4,355 202,373" fill="none" stroke="#000" stroke-width="1.8199999999999998" stroke-linecap="butt"/>
<path d="M196,366 Q203,381 221.4,383" fill="none" stroke="#000" stroke-width="1.8199999999999998" stroke-linecap="butt" stroke-linejoin="round"/>
<path d="M164,407.6 Q162,407.6 162,405.5 L162,404.5 Q162,402.6 164,402.4 Q168,402 168.5,398 Q168.5,395.5 166.5,392.5 Q164.5,386 167.5,382 Q172.4,377 177.3,382 Q180.3,386 178.3,392.5 Q176.3,395.5 176.3,398 Q176.8,402 180,402.4 Q182,402.6 182,404.5 L182,405.5 Q182,407.6 180,407.6 Z" fill="#fff" stroke="#000" stroke-width="1.9500000000000002" stroke-linecap="butt" stroke-linejoin="round"/>
<rect x="190" y="387" width="31.4" height="24" fill="#fff" stroke="#000" stroke-width="1.9500000000000002"/>
<circle cx="207.4" cy="399.5" r="9.4" fill="none" stroke="#000" stroke-width="1.9500000000000002"/>
<rect x="157.3" y="418.5" width="21.5" height="20.5" fill="#fff" stroke="#000" stroke-width="2"/>
<rect x="160.3" y="421.5" width="15.5" height="14.5" fill="none" stroke="#000" stroke-width="1.56"/>
<rect x="157.6" y="446" width="30.4" height="28.3" fill="#fff" stroke="#000" stroke-width="1.9500000000000002"/>
<polyline points="157.6,465 169,465 169,474.3" fill="none" stroke="#000" stroke-width="1.6900000000000002" stroke-linecap="butt"/>
<rect x="157.6" y="478" width="30.4" height="29" fill="#fff" stroke="#000" stroke-width="1.9500000000000002"/>
<polyline points="263.4,392.5 245,418.7" fill="none" stroke="#000" stroke-width="1.8199999999999998" stroke-linecap="butt"/>
<path d="M228.5,392.5 Q229.5,412 250,423" fill="none" stroke="#000" stroke-width="1.8199999999999998" stroke-linecap="butt" stroke-linejoin="round"/>
<rect x="240.65" y="456.85" width="31.7" height="4.8" fill="#000"/>
<rect x="244" y="457.2" width="3.3" height="54.8" fill="#000"/>
<rect x="247.3" y="461.3" width="24.2" height="49.7" fill="#fff"/>
<polyline points="256.3,463 256.3,509" fill="none" stroke="#000" stroke-width="1.9500000000000002" stroke-linecap="butt" stroke-dasharray="9 3.5"/>
<path d="M244,467 L236,473 L244,479" fill="none" stroke="#000" stroke-width="1.8199999999999998" stroke-linecap="butt" stroke-linejoin="round"/>
<path d="M244,491 L236,497 L244,503" fill="none" stroke="#000" stroke-width="1.8199999999999998" stroke-linecap="butt" stroke-linejoin="round"/>
<rect x="197" y="515" width="44" height="11" fill="#fff" stroke="#000" stroke-width="1.8199999999999998"/>
<rect x="201" y="511" width="33" height="7" fill="#fff" stroke="#000" stroke-width="1.56"/>
<polyline points="234,511 208.5,484.5" fill="none" stroke="#000" stroke-width="1.9500000000000002" stroke-linecap="butt"/>
<path d="M209.3,486 Q201,496 201.5,512" fill="none" stroke="#000" stroke-width="1.8199999999999998" stroke-linecap="butt" stroke-linejoin="round"/>
<polyline points="207,503 220,503 220,511" fill="none" stroke="#000" stroke-width="1.56" stroke-linecap="butt"/>
<rect x="70.65" y="510.65" width="5.7" height="273.7" fill="#000"/>
<rect x="70.65" y="510.65" width="37.2" height="5.7" fill="#000"/>
<rect x="142.15" y="510.65" width="13.2" height="5.7" fill="#000"/>
<rect x="70.65" y="778.15" width="27.2" height="6.2" fill="#000"/>
<rect x="300.65" y="779.15" width="29.2" height="5.7" fill="#000"/>
<rect x="324.15" y="538.65" width="5.7" height="84.7" fill="#000"/>
<rect x="324.15" y="699.65" width="5.7" height="85.2" fill="#000"/>
<polyline points="97,784 302,784" fill="none" stroke="#000" stroke-width="1.6900000000000002" stroke-linecap="butt"/>
<polyline points="107.5,509.8 144,509.8" fill="none" stroke="#000" stroke-width="1.56" stroke-linecap="butt"/>
<polyline points="107.5,512 132.5,540" fill="none" stroke="#000" stroke-width="1.8199999999999998" stroke-linecap="butt"/>
<path d="M144,511 Q146,535 122.5,546" fill="none" stroke="#000" stroke-width="1.8199999999999998" stroke-linecap="butt" stroke-linejoin="round"/>
<rect x="324.15" y="620.65" width="17.2" height="5.7" fill="#000"/>
<rect x="324.15" y="697.15" width="17.2" height="5.7" fill="#000"/>
<polyline points="325,626 325,698" fill="none" stroke="#000" stroke-width="1.56" stroke-linecap="butt"/>
<polyline points="336.5,626 336.5,698" fill="none" stroke="#000" stroke-width="2.3400000000000003" stroke-linecap="butt"/>
<polyline points="340.3,630 340.3,694" fill="none" stroke="#000" stroke-width="1.4300000000000002" stroke-linecap="butt"/>
<polyline points="344,630 344,694" fill="none" stroke="#000" stroke-width="1.4300000000000002" stroke-linecap="butt"/>
<polyline points="336.5,630 344,630" fill="none" stroke="#000" stroke-width="1.4300000000000002" stroke-linecap="butt"/>
<polyline points="336.5,694 344,694" fill="none" stroke="#000" stroke-width="1.4300000000000002" stroke-linecap="butt"/>
<text x="181.2" y="224.75" font-family="'Liberation Sans', sans-serif" font-size="26" fill="#000" stroke="#000" stroke-width="0.6" textLength="80" lengthAdjust="spacingAndGlyphs">14'x16'</text>
<text x="312.3" y="174.85" font-family="'Liberation Sans', sans-serif" font-size="27" fill="#000" stroke="#000" stroke-width="0.6" textLength="102" lengthAdjust="spacingAndGlyphs">9'6x10'6</text>
<text x="386" y="264.85" font-family="'Liberation Sans', sans-serif" font-size="27" fill="#000" stroke="#000" stroke-width="0.6" textLength="110" lengthAdjust="spacingAndGlyphs">8'6x12'6</text>
<text x="584.3" y="265.35" font-family="'Liberation Sans', sans-serif" font-size="27" fill="#000" stroke="#000" stroke-width="0.6" textLength="95" lengthAdjust="spacingAndGlyphs">11'6x10'</text>
<text x="574" y="500.05" font-family="'Liberation Sans', sans-serif" font-size="27" fill="#000" stroke="#000" stroke-width="0.6" textLength="103" lengthAdjust="spacingAndGlyphs">12'9x16'</text>
<text x="332" y="499.35" font-family="'Liberation Sans', sans-serif" font-size="27" fill="#000" stroke="#000" stroke-width="0.6" textLength="80" lengthAdjust="spacingAndGlyphs">11'x8'6</text>
<text x="86.2" y="703.6" font-family="'Liberation Sans', sans-serif" font-size="25.7" fill="#000" stroke="#000" stroke-width="0.6" textLength="133.6" lengthAdjust="spacingAndGlyphs">19'4 x 20'8</text>
<text x="310.3" y="51.1" font-family="'Liberation Sans', sans-serif" font-size="34" font-weight="bold" fill="#000" textLength="55" lengthAdjust="spacingAndGlyphs">48'</text>
<text x="371" y="48.3" font-family="'Liberation Sans', sans-serif" font-size="27" fill="#000" stroke="#000" stroke-width="0.4" textLength="110" lengthAdjust="spacingAndGlyphs">(14.6 m)</text>
<text transform="translate(49,508.9) rotate(-90)" x="0" y="0" font-family="'Liberation Sans', sans-serif" font-size="35" font-weight="bold" fill="#000" textLength="80" lengthAdjust="spacingAndGlyphs">54'6</text>
<text transform="translate(48,424) rotate(-90)" x="0" y="0" font-family="'Liberation Sans', sans-serif" font-size="29" fill="#000" stroke="#000" stroke-width="0.4" textLength="108" lengthAdjust="spacingAndGlyphs">(16.6 m)</text>
<text x="179.4" y="193.4" font-family="'Liberation Serif', serif" font-size="35" font-weight="bold" fill="#000" stroke="#000" stroke-width="0.8" textLength="72.6" lengthAdjust="spacingAndGlyphs">fam</text>
<text x="315.2" y="138.5" font-family="'Liberation Serif', serif" font-size="34" font-weight="bold" fill="#000" stroke="#000" stroke-width="0.8" textLength="66.8" lengthAdjust="spacingAndGlyphs">brk</text>
<text x="467.6" y="231.5" font-family="'Liberation Serif', serif" font-size="33" font-weight="bold" fill="#000" stroke="#000" stroke-width="0.8" textLength="24.6" lengthAdjust="spacingAndGlyphs">k</text>
<text x="612.3" y="235" font-family="'Liberation Serif', serif" font-size="35" font-weight="bold" fill="#000" stroke="#000" stroke-width="0.8" textLength="66" lengthAdjust="spacingAndGlyphs">din</text>
<text x="625.8" y="531.2" font-family="'Liberation Serif', serif" font-size="34" font-weight="bold" fill="#000" stroke="#000" stroke-width="0.8" textLength="50" lengthAdjust="spacingAndGlyphs">liv</text>
<text x="341" y="529.7" font-family="'Liberation Serif', serif" font-size="34" font-weight="bold" fill="#000" stroke="#000" stroke-width="0.8" textLength="65" lengthAdjust="spacingAndGlyphs">den</text>
<text x="193.6" y="447.5" font-family="'Liberation Serif', serif" font-size="32.4" font-weight="bold" fill="#000" stroke="#000" stroke-width="0.8" textLength="56" lengthAdjust="spacingAndGlyphs">ldr</text>
<text x="86.5" y="738" font-family="'Liberation Serif', serif" font-size="37" font-weight="bold" fill="#000" stroke="#000" stroke-width="0.8" textLength="153" lengthAdjust="spacingAndGlyphs">two~car</text>
<clipPath id="cg"><rect x="80" y="740" width="160" height="37.3"/></clipPath><g clip-path="url(#cg)">
<text x="84.7" y="769.6" font-family="'Liberation Serif', serif" font-size="38.3" font-weight="bold" fill="#000" stroke="#000" stroke-width="0.8" textLength="136.7" lengthAdjust="spacingAndGlyphs">garage</text>
</g>
<text x="67.6" y="845.95" font-family="'Liberation Serif', serif" font-size="37.2" font-weight="bold" fill="#000" stroke="#000" stroke-width="0.5" textLength="75.7" lengthAdjust="spacingAndGlyphs">first</text>
<text x="160.8" y="845.95" font-family="'Liberation Serif', serif" font-size="37.2" font-weight="bold" fill="#000" stroke="#000" stroke-width="0.5" textLength="85" lengthAdjust="spacingAndGlyphs">level</text>
<text x="259.9" y="845.95" font-family="'Liberation Serif', serif" font-size="37.2" font-weight="bold" fill="#000" stroke="#000" stroke-width="0.5" textLength="91.4" lengthAdjust="spacingAndGlyphs">1275</text>
<text x="368.6" y="845.95" font-family="'Liberation Serif', serif" font-size="37.2" font-weight="bold" fill="#000" stroke="#000" stroke-width="0.5" textLength="92" lengthAdjust="spacingAndGlyphs">sq.ft.</text>
<text x="190.8" y="106" font-family="'Liberation Sans', sans-serif" font-size="17.4" fill="#000" stroke="#000" stroke-width="0.3" textLength="44" lengthAdjust="spacingAndGlyphs">PATIO</text>
<text x="608.1" y="161.6" font-family="'Liberation Sans', sans-serif" font-size="16.3" fill="#000" stroke="#000" stroke-width="0.3" textLength="38.5" lengthAdjust="spacingAndGlyphs">TRAY</text>
<text x="607.1" y="176.6" font-family="'Liberation Sans', sans-serif" font-size="16.3" fill="#000" stroke="#000" stroke-width="0.3" textLength="60" lengthAdjust="spacingAndGlyphs">CEILING</text>
<text x="698.8" y="362.3" font-family="'Liberation Sans', sans-serif" font-size="16.9" fill="#000" stroke="#000" stroke-width="0.3" textLength="98" lengthAdjust="spacingAndGlyphs">DECORATIVE</text>
<text x="709" y="377.4" font-family="'Liberation Sans', sans-serif" font-size="16.9" fill="#000" stroke="#000" stroke-width="0.3" textLength="72" lengthAdjust="spacingAndGlyphs">COLUMNS</text>
<text x="436.6" y="456.6" font-family="'Liberation Sans', sans-serif" font-size="16.3" fill="#000" stroke="#000" stroke-width="0.3" textLength="53.5" lengthAdjust="spacingAndGlyphs">FOYER</text>
<text x="673.2" y="568.3" font-family="'Liberation Sans', sans-serif" font-size="16.6" fill="#000" stroke="#000" stroke-width="0.3" textLength="87" lengthAdjust="spacingAndGlyphs">10' CEILING</text>
<text x="366.1" y="374.6" font-family="'Liberation Sans', sans-serif" font-size="16.9" fill="#000" stroke="#000" stroke-width="0.3" textLength="62.2" lengthAdjust="spacingAndGlyphs">RAILING</text>
<text transform="translate(324.3,331) rotate(-90)" x="-0.93" y="-0.4" font-family="'Liberation Sans', sans-serif" font-size="16.7" fill="#000" stroke="#000" stroke-width="0.3" textLength="63.5" lengthAdjust="spacingAndGlyphs">RAILING</text>
<text transform="translate(725.5,272) rotate(-90)" x="-1.08" y="-0.4" font-family="'Liberation Sans', sans-serif" font-size="16.7" fill="#000" stroke="#000" stroke-width="0.3" textLength="69.7" lengthAdjust="spacingAndGlyphs">BUFFET</text>
<text x="172.2" y="459.75" font-family="'Liberation Sans', sans-serif" font-size="14.5" fill="#000" textLength="10.6" lengthAdjust="spacingAndGlyphs">W</text>
<text x="168.35" y="493.75" font-family="'Liberation Sans', sans-serif" font-size="14.5" fill="#000" textLength="14.4" lengthAdjust="spacingAndGlyphs">ID</text>
</g>
</svg>
</body></html>
